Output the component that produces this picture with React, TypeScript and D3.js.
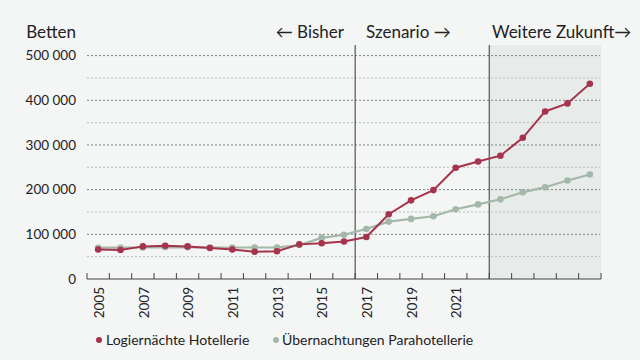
import React from "react";
import * as d3 from "d3";

const years = d3.range(2005, 2028);
const hotellerie = [66000, 65000, 73000, 74500, 73000, 69500, 66000, 61000, 62000, 77500, 80000, 84000, 94000, 145000, 176000, 199000, 249000, 263000, 276000, 316000, 375000, 393000, 437000];
const parahotellerie = [70000, 70000, 70500, 71000, 71000, 70500, 70500, 70500, 70500, 76000, 92000, 99000, 112000, 128500, 134500, 140500, 156000, 167000, 178500, 194000, 205500, 220500, 234000];
const yTicks = [0, 100000, 200000, 300000, 400000, 500000];
const minorTicks = [50000, 150000, 250000, 350000, 450000];
const xLabels = [2005, 2007, 2009, 2011, 2013, 2015, 2017, 2019, 2021];
const dividers = [2017, 2023];
const seriesNames = ["Logiernächte Hotellerie", "Übernachtungen Parahotellerie"];

const W = 640, H = 360;
const left = 87, right = 601, top = 45, bottom = 279;
const RED = "#a5334b", GREEN = "#a4b8aa";
const FONT = "Lato, 'Open Sans', sans-serif";

export default function App() {
  const x = d3.scaleBand<number>().domain(years).range([left, right]).padding(0);
  const y = d3.scaleLinear().domain([0, 500000]).range([bottom, 55.6]);
  const cx = (yr: number) => (x(yr) as number) + x.bandwidth() / 2;
  const line = d3.line<number>().x((_, i) => cx(years[i])).y((d) => y(d));
  const fmt = (v: number) => d3.format(",")(v).replace(/,/g, " ");
  const tickXs = d3.range(years.length + 1).map((i) => left + i * x.bandwidth());
  const d1 = x(dividers[0]) as number;
  const d2 = x(dividers[1]) as number;

  return (
    <svg width={W} height={H} style={{ position: "absolute", left: 0, top: 0, background: "#f4f5f5" }} fontFamily={FONT}>
      <rect x={0} y={0} width={W} height={H} fill="#f4f5f5" />
      <rect x={d2} y={top} width={right - d2} height={bottom - top} fill="#e7ecea" />
      {minorTicks.map((t) => (
        <line key={"m" + t} x1={left} x2={right - 1} y1={y(t)} y2={y(t)} stroke="#b9bcbc" strokeWidth={1} strokeDasharray="2,2" />
      ))}
      {yTicks.filter((t) => t > 0).map((t) => (
        <line key={"g" + t} x1={left} x2={right - 1} y1={y(t)} y2={y(t)} stroke="#7d8080" strokeWidth={1} strokeDasharray="2,2" />
      ))}
      {yTicks.map((t) => (
        <text key={"t" + t} x={76} y={y(t)} dy="0.35em" textAnchor="end" fontSize={13.5} fill="#222">
          {fmt(t)}
        </text>
      ))}
      <text x={76} y={38} textAnchor="end" fontSize={17} fill="#222">Betten</text>
      {[d1, d2].map((dx, i) => (
        <line key={"d" + i} x1={dx} x2={dx} y1={top} y2={bottom} stroke="#555" strokeWidth={1.2} />
      ))}
      <text x={344} y={38} textAnchor="end" fontSize={17} fill="#222">← Bisher</text>
      <text x={366} y={38} fontSize={17} fill="#222">Szenario →</text>
      <text x={492} y={38} fontSize={17} fill="#222">Weitere Zukunft→</text>
      <line x1={left} x2={right} y1={bottom} y2={bottom} stroke="#444" strokeWidth={1.2} />
      {tickXs.map((tx, i) => (
        <line key={"k" + i} x1={tx} x2={tx} y1={bottom - 6} y2={bottom} stroke="#444" strokeWidth={1} />
      ))}
      {xLabels.map((yr) => (
        <text key={"x" + yr} transform={`translate(${cx(yr) + 1},${287}) rotate(-90)`} textAnchor="end" dy="0.35em" fontSize={13.5} fill="#222">
          {yr}
        </text>
      ))}
      <path d={line(parahotellerie) || ""} fill="none" stroke={GREEN} strokeWidth={2.2} />
      {parahotellerie.map((v, i) => (
        <circle key={"p" + i} cx={cx(years[i])} cy={y(v)} r={3.3} fill={GREEN} />
      ))}
      <path d={line(hotellerie) || ""} fill="none" stroke={RED} strokeWidth={2} />
      {hotellerie.map((v, i) => (
        <circle key={"h" + i} cx={cx(years[i])} cy={y(v)} r={3.3} fill={RED} />
      ))}
      <circle cx={99} cy={340} r={3} fill={RED} />
      <text x={106} y={340} dy="0.35em" fontSize={14} fill="#222">{seriesNames[0]}</text>
      <circle cx={276} cy={340} r={3} fill={GREEN} />
      <text x={282} y={340} dy="0.35em" fontSize={14} fill="#222">{seriesNames[1]}</text>
    </svg>
  );
}
